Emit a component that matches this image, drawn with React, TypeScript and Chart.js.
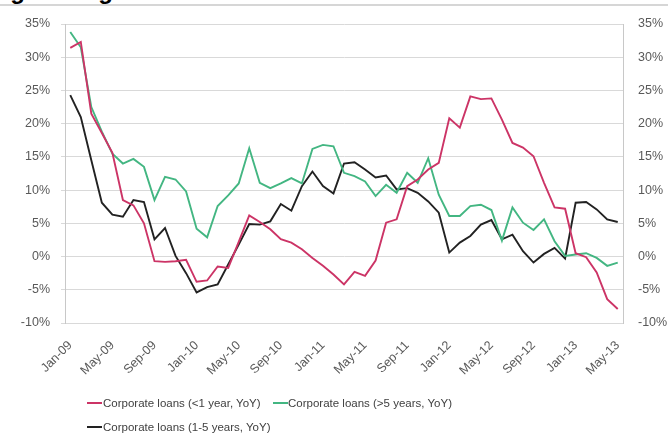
import React, { useEffect, useRef } from "react";
import { Chart, registerables } from "chart.js";

Chart.register(...registerables);

const months: string[] = [
  "Jan-09", "Feb-09", "Mar-09", "Apr-09", "May-09", "Jun-09", "Jul-09", "Aug-09", "Sep-09", "Oct-09", "Nov-09", "Dec-09",
  "Jan-10", "Feb-10", "Mar-10", "Apr-10", "May-10", "Jun-10", "Jul-10", "Aug-10", "Sep-10", "Oct-10", "Nov-10", "Dec-10",
  "Jan-11", "Feb-11", "Mar-11", "Apr-11", "May-11", "Jun-11", "Jul-11", "Aug-11", "Sep-11", "Oct-11", "Nov-11", "Dec-11",
  "Jan-12", "Feb-12", "Mar-12", "Apr-12", "May-12", "Jun-12", "Jul-12", "Aug-12", "Sep-12", "Oct-12", "Nov-12", "Dec-12",
  "Jan-13", "Feb-13", "Mar-13", "Apr-13", "May-13",
];

const shortTerm: number[] = [
  31.4, 32.3, 21.5, 18.6, 15.6, 8.5, 7.7, 5.0, -0.7, -0.8, -0.7, -0.5,
  -3.8, -3.6, -1.5, -1.7, 2.2, 6.2, 5.2, 4.1, 2.6, 2.1, 1.1, -0.2,
  -1.4, -2.7, -4.2, -2.3, -2.9, -0.6, 5.1, 5.6, 10.6, 11.6, 13.1, 14.1,
  20.8, 19.4, 24.1, 23.7, 23.8, 20.6, 17.1, 16.4, 15.1, 11.1, 7.4, 7.2,
  0.5, -0.1, -2.4, -6.4, -7.9,
];

const longTerm: number[] = [
  33.8, 31.5, 22.5, 18.8, 15.5, 14.0, 14.7, 13.5, 8.5, 12.0, 11.6, 9.8,
  4.2, 2.9, 7.6, 9.2, 11.0, 16.3, 11.1, 10.3, 11.0, 11.8, 11.0, 16.2,
  16.8, 16.6, 12.6, 12.1, 11.3, 9.1, 10.8, 9.6, 12.6, 11.1, 14.8, 9.3,
  6.1, 6.1, 7.6, 7.8, 7.0, 2.4, 7.4, 5.1, 4.0, 5.6, 2.3, 0.1,
  0.3, 0.5, -0.2, -1.4, -0.9,
];

const midTerm: number[] = [
  24.3, 21.0, 14.5, 8.1, 6.3, 6.0, 8.5, 8.2, 2.6, 4.3, 0.1, -2.5,
  -5.4, -4.6, -4.2, -1.2, 1.8, 4.9, 4.8, 5.3, 7.9, 6.9, 10.6, 12.8,
  10.6, 9.5, 14.0, 14.2, 13.1, 11.9, 12.2, 10.1, 10.3, 9.6, 8.3, 6.6,
  0.6, 2.1, 3.1, 4.8, 5.5, 2.6, 3.3, 0.8, -0.9, 0.4, 1.3, -0.3,
  8.1, 8.2, 7.1, 5.6, 5.2,
];

const seriesNames: string[] = [
  "Corporate loans (<1 year, YoY)",
  "Corporate loans (>5 years, YoY)",
  "Corporate loans (1-5 years, YoY)",
];

const seriesColors: string[] = ["#cc3466", "#43b682", "#222222"];

const yTicks: number[] = [-10, -5, 0, 5, 10, 15, 20, 25, 30, 35];

const FONT = "'Liberation Sans', Arial, sans-serif";

export default function App() {
  const canvasRef = useRef<HTMLCanvasElement | null>(null);

  useEffect(() => {
    if (!canvasRef.current) return;
    const chart = new Chart(canvasRef.current, {
      type: "line",
      data: {
        labels: months,
        datasets: [
          { label: seriesNames[0], data: shortTerm, borderColor: seriesColors[0], yAxisID: "y" },
          { label: seriesNames[1], data: longTerm, borderColor: seriesColors[1], yAxisID: "y" },
          { label: seriesNames[2], data: midTerm, borderColor: seriesColors[2], yAxisID: "y" },
        ].map((d) => ({
          ...d,
          backgroundColor: d.borderColor,
          borderWidth: 1.9,
          pointRadius: 0,
          tension: 0,
          fill: false,
        })),
      },
      options: {
        responsive: false,
        animation: false,
        maintainAspectRatio: false,
        layout: { padding: { top: 24, left: 0, right: 0, bottom: 0 } },
        plugins: {
          legend: { display: false },
          title: { display: false },
          tooltip: { enabled: false },
        },
        scales: {
          x: {
            type: "category",
            offset: true,
            grid: { display: false },
            border: { display: true, color: "#d9d9d9" },
            ticks: {
              autoSkip: false,
              minRotation: 45,
              maxRotation: 45,
              padding: 7,
              color: "#595959",
              font: { family: FONT, size: 12.5 },
              callback: (_v: any, i: number) => (i % 4 === 0 ? months[i] : ""),
            },
            afterFit: (s: any) => {
              s.height = 111;
            },
          },
          y: {
            position: "left",
            min: yTicks[0],
            max: yTicks[yTicks.length - 1],
            afterBuildTicks: (s: any) => {
              s.ticks = yTicks.map((v) => ({ value: v }));
            },
            grid: { color: "#d9d9d9", drawTicks: true, tickLength: 4, lineWidth: 1 },
            border: { display: true, color: "#c8c8c8" },
            ticks: {
              padding: 11,
              color: "#595959",
              font: { family: FONT, size: 12.5 },
              callback: (v: any) => `${v}%`,
            },
            afterFit: (s: any) => {
              s.width = 65;
            },
          },
          y2: {
            position: "right",
            min: yTicks[0],
            max: yTicks[yTicks.length - 1],
            afterBuildTicks: (s: any) => {
              s.ticks = yTicks.map((v) => ({ value: v }));
            },
            grid: { display: false, drawTicks: false },
            border: { display: true, color: "#c8c8c8" },
            ticks: {
              padding: 15,
              color: "#595959",
              font: { family: FONT, size: 12.5 },
              callback: (v: any) => `${v}%`,
            },
            afterFit: (s: any) => {
              s.width = 45;
            },
          },
        },
      },
    } as any);
    return () => chart.destroy();
  }, []);

  const legendText: React.CSSProperties = {
    position: "absolute",
    fontFamily: FONT,
    fontSize: "11.5px",
    color: "#404040",
    whiteSpace: "nowrap",
    lineHeight: "14px",
  };
  const legendLine = (color: string, x: number, y: number): React.CSSProperties => ({
    position: "absolute",
    left: x,
    top: y - 1,
    width: 15,
    height: 2,
    background: color,
  });

  return (
    <div
      style={{
        position: "absolute",
        left: 0,
        top: 0,
        width: 668,
        height: 434,
        background: "#ffffff",
        overflow: "hidden",
      }}
    >
      <div style={{ position: "absolute", left: 0, top: 0, width: 668, height: 4, overflow: "hidden" }}>
        <div
          style={{
            position: "absolute",
            left: -11,
            top: -21,
            fontFamily: FONT,
            fontWeight: "bold",
            fontSize: "24px",
            lineHeight: "24px",
            color: "#000",
            whiteSpace: "nowrap",
          }}
        >
          Fig 8: Bulgaria
        </div>
      </div>
      <div style={{ position: "absolute", left: 0, top: 4, width: 668, height: 2, background: "#d6d6d6" }} />
      <canvas ref={canvasRef} width={668} height={434} style={{ position: "absolute", left: 0, top: 0 }} />
      <div style={legendLine(seriesColors[0], 87, 403)} />
      <div style={{ ...legendText, left: 103, top: 396 }}>{seriesNames[0]}</div>
      <div style={legendLine(seriesColors[1], 273, 403)} />
      <div style={{ ...legendText, left: 288, top: 396 }}>{seriesNames[1]}</div>
      <div style={legendLine(seriesColors[2], 87, 427)} />
      <div style={{ ...legendText, left: 103, top: 420 }}>{seriesNames[2]}</div>
    </div>
  );
}
